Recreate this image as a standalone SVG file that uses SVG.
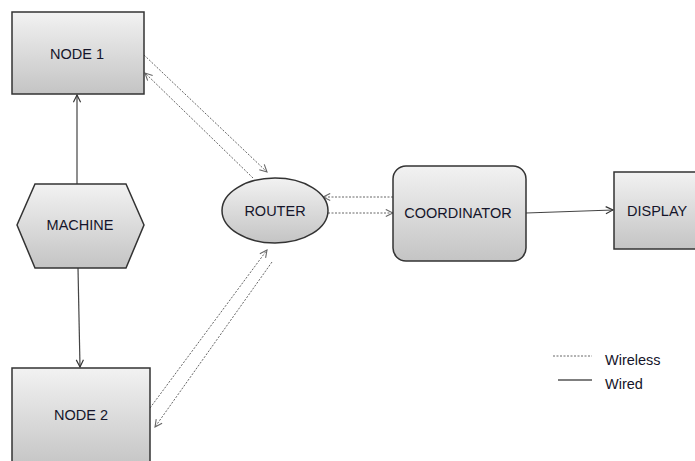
<svg xmlns="http://www.w3.org/2000/svg" width="695" height="461" viewBox="0 0 695 461">
<defs>
<linearGradient id="g" x1="0" y1="0" x2="0" y2="1">
<stop offset="0" stop-color="#f2f2f2"/>
<stop offset="1" stop-color="#c4c4c4"/>
</linearGradient>
<marker id="ah" viewBox="0 0 10 10" refX="9" refY="5" markerWidth="9" markerHeight="9" markerUnits="userSpaceOnUse" orient="auto">
<path d="M1,1 L9,5 L1,9" fill="none" stroke="#333" stroke-width="1.3"/>
</marker>
<marker id="ahd" viewBox="0 0 10 10" refX="9" refY="5" markerWidth="9" markerHeight="9" markerUnits="userSpaceOnUse" orient="auto">
<path d="M1,1 L9,5 L1,9" fill="none" stroke="#666" stroke-width="1.2"/>
</marker>
</defs>
<style>
.n{fill:url(#g);stroke:#333;stroke-width:1.5}
.t{font-family:"Liberation Sans",Arial,sans-serif;font-size:14.5px;fill:#15152a;text-anchor:middle}
.w{fill:none;stroke:#444;stroke-width:1.2}
.d{fill:none;stroke:#666;stroke-width:1;stroke-dasharray:2,1.5}
</style>
<g id="connectors">
<line class="w" x1="77" y1="184" x2="77" y2="95" marker-end="url(#ah)"/>
<line class="w" x1="78" y1="268" x2="80" y2="367" marker-end="url(#ah)"/>
<line class="w" x1="526" y1="213" x2="613" y2="210" marker-end="url(#ah)"/>
<line class="d" x1="144" y1="55" x2="267" y2="172" marker-end="url(#ahd)"/>
<line class="d" x1="253" y1="178" x2="145" y2="73" marker-end="url(#ahd)"/>
<line class="d" x1="150" y1="408" x2="267" y2="250" marker-end="url(#ahd)"/>
<line class="d" x1="272" y1="262" x2="155" y2="427" marker-end="url(#ahd)"/>
<line class="d" x1="393" y1="197" x2="323" y2="197" marker-end="url(#ahd)"/>
<line class="d" x1="328" y1="213" x2="393" y2="213" marker-end="url(#ahd)"/>
</g>
<g id="node1">
<rect class="n" x="12" y="12" width="132" height="82"/>
<text class="t" x="77" y="59">NODE 1</text>
</g>
<g id="machine">
<polygon class="n" points="35,184 126,184 144,225 126,268 35,268 17,225"/>
<text class="t" x="80" y="230">MACHINE</text>
</g>
<g id="node2">
<rect class="n" x="12" y="368" width="138" height="100"/>
<text class="t" x="81" y="420">NODE 2</text>
</g>
<g id="router">
<ellipse class="n" cx="275" cy="210.5" rx="53" ry="32.5"/>
<text class="t" x="275" y="216">ROUTER</text>
</g>
<g id="coordinator">
<rect class="n" x="393" y="166" width="133" height="95" rx="13"/>
<text class="t" x="458" y="218">COORDINATOR</text>
</g>
<g id="display">
<rect class="n" x="614" y="172" width="90" height="77"/>
<text class="t" x="627" y="216" style="text-anchor:start">DISPLAY</text>
</g>
<g id="legend">
<line class="d" x1="553" y1="356" x2="592" y2="356"/>
<line x1="558" y1="380" x2="592" y2="380" stroke="#555" stroke-width="1.3"/>
<text class="t" x="605" y="365" style="text-anchor:start">Wireless</text>
<text class="t" x="605" y="389" style="text-anchor:start">Wired</text>
</g>
</svg>
